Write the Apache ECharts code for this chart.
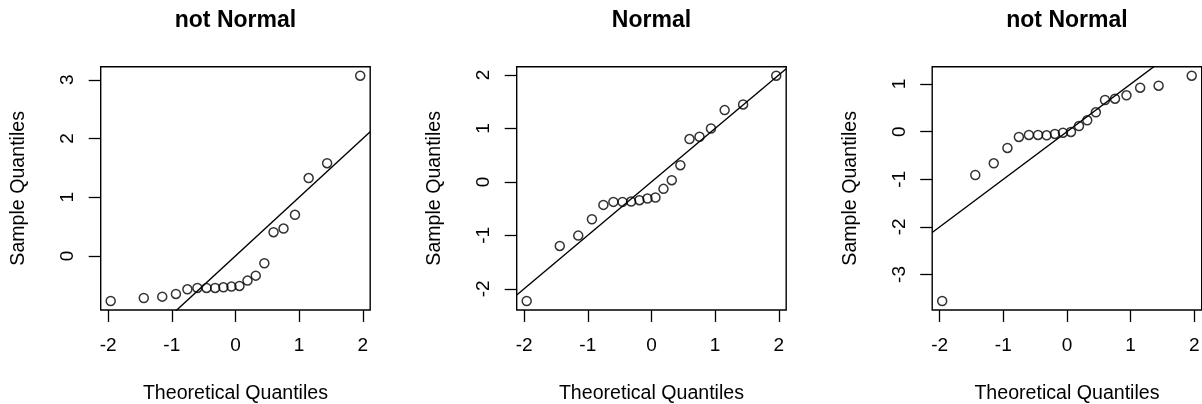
<!DOCTYPE html>
<html>
<head>
<meta charset="utf-8">
<script src="https://cdn.jsdelivr.net/npm/echarts@6/dist/echarts.min.js"></script>
<style>
html,body{margin:0;padding:0;background:#fff;}
#c{width:1202px;height:404px;}
</style>
</head>
<body>
<div id="c"></div>
<script>
// ---- data ----
const panelTitles = ['not Normal', 'Normal', 'not Normal'];
const xAxisName = 'Theoretical Quantiles';
const yAxisName = 'Sample Quantiles';
const theoreticalQ = [-1.960, -1.440, -1.150, -0.935, -0.755, -0.598, -0.454, -0.319, -0.189, -0.063,
                       0.063, 0.189, 0.319, 0.454, 0.598, 0.755, 0.935, 1.150, 1.440, 1.960];
const sample1 = [-0.768, -0.717, -0.694, -0.648, -0.569, -0.546, -0.546, -0.546, -0.535, -0.523,
                 -0.512, -0.421, -0.336, -0.125, 0.404, 0.466, 0.700, 1.326, 1.580, 3.070];
const sample2 = [-2.228, -1.199, -1.005, -0.699, -0.431, -0.375, -0.375, -0.368, -0.343, -0.312,
                 -0.293, -0.131, 0.031, 0.312, 0.800, 0.843, 0.998, 1.342, 1.448, 1.985];
const sample3 = [-3.557, -0.910, -0.664, -0.342, -0.111, -0.069, -0.069, -0.076, -0.048, -0.021,
                 -0.006, 0.120, 0.239, 0.407, 0.666, 0.693, 0.764, 0.924, 0.966, 1.176];
const xTicks = [-2, -1, 0, 1, 2];
const yTicks1 = [0, 1, 2, 3];
const yTicks2 = [-2, -1, 0, 1, 2];
const yTicks3 = [-3, -2, -1, 0, 1];
const refIntercept = [0, 0, 0];
const refSlope = [1, 1, 1];

const samples = [sample1, sample2, sample3];
const yTicks = [yTicks1, yTicks2, yTicks3];

// ---- layout ----
const FONT = "'Liberation Sans', Arial, Helvetica, sans-serif";
const gridLeft = [100.7, 516.7, 932.2];
const gridTop = 66.7, gridW = 269.5, gridH = 243.3;

function extRange(arr) {
  const lo = Math.min(...arr), hi = Math.max(...arr);
  const d = (hi - lo) * 0.04;
  return [lo - d, hi + d];
}

const grids = [], xAxes = [], yAxes = [], series = [], titles = [];
const xr = extRange(theoreticalQ);

for (let i = 0; i < 3; i++) {
  const yr = extRange(samples[i]);
  grids.push({left: gridLeft[i], top: gridTop, width: gridW, height: gridH,
    show: true, borderColor: '#000', borderWidth: 1.4, backgroundColor: 'transparent',
    containLabel: false, outerBoundsMode: 'none'});
  titles.push({text: panelTitles[i], left: gridLeft[i] + gridW / 2, top: 9, textAlign: 'center', padding: 0,
    textStyle: {fontFamily: FONT, fontSize: 23, fontWeight: 'bold', color: '#000'}});
  xAxes.push({type: 'value', gridIndex: i, min: xr[0], max: xr[1], position: 'bottom',
    name: xAxisName, nameLocation: 'middle', nameGap: 74,
    nameTextStyle: {fontFamily: FONT, fontSize: 19.6, color: '#000'},
    axisLine: {show: false, onZero: false},
    axisTick: {show: true, inside: false, length: 12, customValues: xTicks, lineStyle: {color: '#000', width: 1.3}},
    axisLabel: {show: true, customValues: xTicks, margin: 26, fontFamily: FONT, fontSize: 19, color: '#000'},
    splitLine: {show: false}});
  yAxes.push({type: 'value', gridIndex: i, min: yr[0], max: yr[1], position: 'left',
    name: yAxisName, nameLocation: 'middle', nameGap: 72, nameRotate: 90,
    nameTextStyle: {fontFamily: FONT, fontSize: 19.6, color: '#000'},
    axisLine: {show: false, onZero: false},
    axisTick: {show: true, inside: false, length: 12, customValues: yTicks[i], lineStyle: {color: '#000', width: 1.3}},
    axisLabel: {show: true, customValues: yTicks[i], rotate: 90, margin: 23, fontFamily: FONT, fontSize: 19, color: '#000'},
    splitLine: {show: false}});
  series.push({type: 'scatter', xAxisIndex: i, yAxisIndex: i,
    data: theoreticalQ.map((x, k) => [x, samples[i][k]]),
    symbol: 'circle', symbolSize: 9,
    itemStyle: {color: 'rgba(0,0,0,0)', borderColor: '#000', borderWidth: 1.5},
    emphasis: {disabled: true}, silent: true, z: 3});
  series.push({type: 'line', xAxisIndex: i, yAxisIndex: i,
    data: xr.map(x => [x, refIntercept[i] + refSlope[i] * x]),
    showSymbol: false, clip: true, lineStyle: {color: '#000', width: 1.4},
    silent: true, z: 2});
}

const chart = echarts.init(document.getElementById('c'), null, {renderer: 'canvas'});
chart.setOption({
  animation: false,
  backgroundColor: '#fff',
  title: titles,
  grid: grids,
  xAxis: xAxes,
  yAxis: yAxes,
  series: series
});
</script>
</body>
</html>
